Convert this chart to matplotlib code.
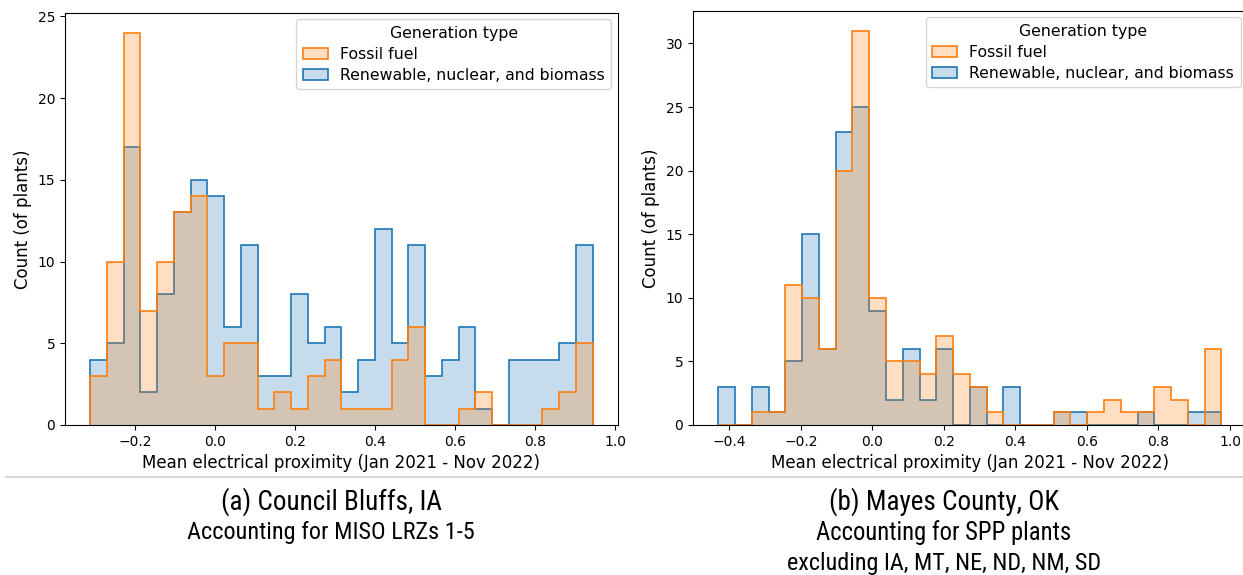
import numpy as np
import matplotlib
matplotlib.use("Agg")
import matplotlib.pyplot as plt
from matplotlib.lines import Line2D
from matplotlib import font_manager as fm

# ---- Data (counts per bin, 30 equal-width bins each) ----
# Panel (a): Council Bluffs, IA
a_range = (-0.3126, 0.9432)
a_fossil = [3, 10, 24, 7, 10, 13, 14, 3, 5, 5, 1, 2, 1, 3, 4, 1, 1, 1, 4, 6,
            0, 0, 1, 2, 0, 0, 0, 1, 2, 5]
a_renew = [4, 5, 17, 2, 8, 13, 15, 14, 6, 11, 3, 3, 8, 5, 6, 2, 4, 12, 5, 11,
           3, 4, 6, 1, 0, 4, 4, 4, 5, 11]

# Panel (b): Mayes County, OK
b_range = (-0.4308, 0.9758)
b_fossil = [0, 0, 1, 1, 11, 10, 6, 20, 31, 10, 5, 5, 4, 7, 4, 3, 1, 0, 0, 0,
            1, 0, 1, 2, 1, 1, 3, 2, 0, 6]
b_renew = [3, 0, 3, 1, 5, 15, 6, 23, 25, 9, 2, 6, 2, 6, 0, 3, 0, 3, 0, 0,
           1, 1, 0, 0, 0, 1, 0, 0, 1, 1]

series_labels = ["Fossil fuel", "Renewable, nuclear, and biomass"]
legend_title = "Generation type"
xlabel = "Mean electrical proximity (Jan 2021 - Nov 2022)"
ylabel = "Count (of plants)"
captions_a = ["(a) Council Bluffs, IA", "Accounting for MISO LRZs 1-5"]
captions_b = ["(b) Mayes County, OK", "Accounting for SPP plants",
              "excluding IA, MT, NE, ND, NM, SD"]

ORANGE = "#ff7f0e"
BLUE = "#1f77b4"


def pick_condensed_font():
    """Find an installed condensed / narrow regular sans font."""
    prefs = ["roboto condensed", "liberation sans narrow", "noto sans condensed",
             "dejavu sans condensed", "open sans condensed", "narrow", "condensed"]
    best = None
    best_rank = None
    for f in fm.fontManager.ttflist:
        name = (f.name or "").lower()
        fname = (f.fname or "").lower()
        stretch = str(f.stretch).lower()
        tag = name + " " + fname.split("/")[-1]
        is_cond = ("condensed" in tag or "narrow" in tag or
                   stretch in ("condensed", "semi-condensed", "extra-condensed"))
        if not is_cond or f.style != "normal":
            continue
        w = f.weight
        try:
            w = int(w)
        except Exception:
            w = 400 if str(w) in ("normal", "regular", "book") else 700
        if w != 400:
            continue
        extra_pen = 1 if ("extra" in tag or "ultra" in tag or "semi" in tag) else 0
        rank = len(prefs)
        for i, p in enumerate(prefs):
            if p in tag:
                rank = i
                break
        key = (rank, extra_pen)
        if best_rank is None or key < best_rank:
            best_rank = key
            best = f.fname
    if best is None:
        return fm.FontProperties(family="DejaVu Sans")
    return fm.FontProperties(fname=best)


W, H = 1243, 575
fig = plt.figure(figsize=(W / 100, H / 100), dpi=100)


def fx(px):
    return px / W


def fy(py):
    return 1 - py / H


ax_a = fig.add_axes([fx(65), fy(425), (617.7 - 65) / W, (425 - 13) / H])
ax_b = fig.add_axes([fx(693), fy(425), (1246.8 - 693) / W, (425 - 11) / H])


def draw_panel(ax, rng, fossil, renew):
    edges = np.linspace(rng[0], rng[1], len(fossil) + 1)
    # renewable drawn first, fossil on top
    for vals, col in [(renew, BLUE), (fossil, ORANGE)]:
        ax.stairs(vals, edges, fill=True, color=col, alpha=0.25, linewidth=0)
        ax.stairs(vals, edges, fill=False, baseline=0, color=col, linewidth=1.2)
    ax.set_xlabel(xlabel, fontsize=12)
    ax.set_ylabel(ylabel, fontsize=12)
    ax.tick_params(labelsize=10)
    ax.set_ylim(bottom=0)
    handles = []
    for col in [ORANGE, BLUE]:
        handles.append(plt.Rectangle((0, 0), 1, 1,
                                     facecolor=matplotlib.colors.to_rgba(col, 0.25),
                                     edgecolor=col, linewidth=1.2))
    ax.legend(handles, series_labels, title=legend_title, loc="upper right",
              fontsize=11.3, title_fontsize=11.3, handlelength=1.6,
              labelspacing=0.4, borderaxespad=0.4)


draw_panel(ax_a, a_range, a_fossil, a_renew)
draw_panel(ax_b, b_range, b_fossil, b_renew)
ax_a.set_xticks([-0.2, 0.0, 0.2, 0.4, 0.6, 0.8, 1.0])
ax_b.set_xticks([-0.4, -0.2, 0.0, 0.2, 0.4, 0.6, 0.8, 1.0])
ax_a.set_xlim(-0.3754, 1.006)
ax_b.set_xlim(-0.5017, 1.047)
ax_b.set_yticks([0, 5, 10, 15, 20, 25, 30])

# separator line
fig.add_artist(Line2D([fx(6), fx(1243)], [fy(477), fy(477)],
                      color="#d0d0d0", linewidth=1.2))

# caption font: condensed face, each line sized to its width in the reference
cap_fp = pick_condensed_font()
fig.canvas.draw()
renderer = fig.canvas.get_renderer()


def caption(txt, xc, yc, target_w):
    t = fig.text(fx(xc), fy(yc), txt, ha="center", va="center",
                 fontproperties=cap_fp, fontsize=20)
    w = t.get_window_extent(renderer).width
    size = 20 * target_w / w
    t.set_fontsize(min(size, 21.5))
    return t


for txt, y, tw in zip(captions_a, [501.7, 532.7], [220, 287]):
    caption(txt, 331, y, tw)
for txt, y, tw in zip(captions_b, [501.7, 532.7, 563.3], [229, 254, 314]):
    caption(txt, 944, y, tw)

fig.savefig("out.png", dpi=100)
